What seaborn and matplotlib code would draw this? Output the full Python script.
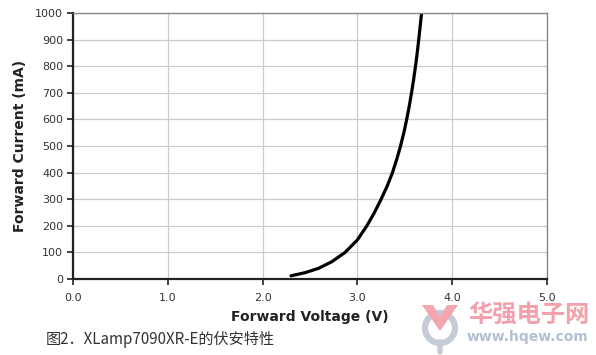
import numpy as np
import pandas as pd
import matplotlib
matplotlib.use("Agg")
import matplotlib.pyplot as plt
from matplotlib.patches import Ellipse, Polygon
import seaborn as sns

voltage = [2.30, 2.45, 2.59, 2.73, 2.87, 3.00, 3.10, 3.18, 3.25, 3.315,
           3.37, 3.415, 3.455, 3.49, 3.52, 3.547, 3.571, 3.593, 3.613,
           3.631, 3.647, 3.662, 3.677]
current = [12, 24, 40, 65, 100, 147, 200, 250, 300, 350,
           400, 450, 500, 550, 600, 650, 700, 750, 800,
           850, 900, 950, 1000]

x_ticks = [0.0, 1.0, 2.0, 3.0, 4.0, 5.0]
y_ticks = list(range(0, 1001, 100))
caption = "图2．XLamp7090XR-E的伏安特性"

W, H = 596, 355

sns.set_theme(style="whitegrid")
plt.rcParams['font.family'] = ['DejaVu Sans', 'Noto Sans CJK SC']

df = pd.DataFrame({"V": voltage, "I": current})

fig = plt.figure(figsize=(W / 100, H / 100), dpi=100)
ax = fig.add_axes([73 / W, 1 - 279 / H, 474 / W, 266 / H])

sns.lineplot(data=df, x="V", y="I", ax=ax, color="black", linewidth=2.3, sort=False,
             solid_joinstyle="round", solid_capstyle="round")

ax.set_xlim(0, 5)
ax.set_ylim(0, 1000)
ax.set_xticks(x_ticks)
ax.set_xticklabels([f"{t:.1f}" for t in x_ticks])
ax.set_yticks(y_ticks)
ax.grid(True, color="#cccccc", linewidth=0.9)
ax.set_facecolor("white")

for side in ["top", "right"]:
    ax.spines[side].set_color("#888888")
    ax.spines[side].set_linewidth(1.0)
for side in ["left", "bottom"]:
    ax.spines[side].set_color("#222222")
    ax.spines[side].set_linewidth(1.6)

ax.tick_params(axis="both", which="both", direction="out", length=4, width=1.2,
               color="#222222", labelsize=8, labelcolor="#333333", pad=3)
ax.tick_params(axis="x", pad=6)
ax.tick_params(left=True, bottom=True)

ax.set_xlabel("Forward Voltage (V)", fontsize=10, fontweight="bold", color="#222222", labelpad=5)
ax.set_ylabel("Forward Current (mA)", fontsize=10, fontweight="bold", color="#222222", labelpad=6)

# Pie de figura
fig.text(46 / W, 1 - 339 / H, caption, fontsize=10.9, color="#333333",
         family=['Noto Sans CJK SC', 'DejaVu Sans'], va="center")

# Marca de agua (logo + texto)
def px(x, y):
    return (x / W, 1 - y / H)

fig.patches.append(Ellipse(px(440, 328), 30 / W, 30 / H, transform=fig.transFigure,
                           fill=False, edgecolor="#c5ccd8", linewidth=4.5))
fig.patches.append(Polygon([px(422, 305), px(433, 305), px(440, 317), px(447, 305),
                            px(458, 305), px(440, 331)], closed=True,
                           transform=fig.transFigure, facecolor="#f4a6ae", edgecolor="none"))
fig.lines.append(plt.Line2D([440 / W, 440 / W], [1 - 342 / H, 1 - 352 / H],
                            transform=fig.transFigure, color="#c5ccd8", linewidth=4))

fig.text(468 / W, 1 - 316 / H, "华强电子网", fontsize=17.5, color="#f4a0aa", fontweight="bold",
         family=['Noto Sans CJK SC'], va="center")
fig.text(467 / W, 1 - 337.5 / H, "www.hqew.com", fontsize=10, color="#b3bfd2",
         fontweight="bold", va="center")

fig.savefig("out.png", dpi=100)
